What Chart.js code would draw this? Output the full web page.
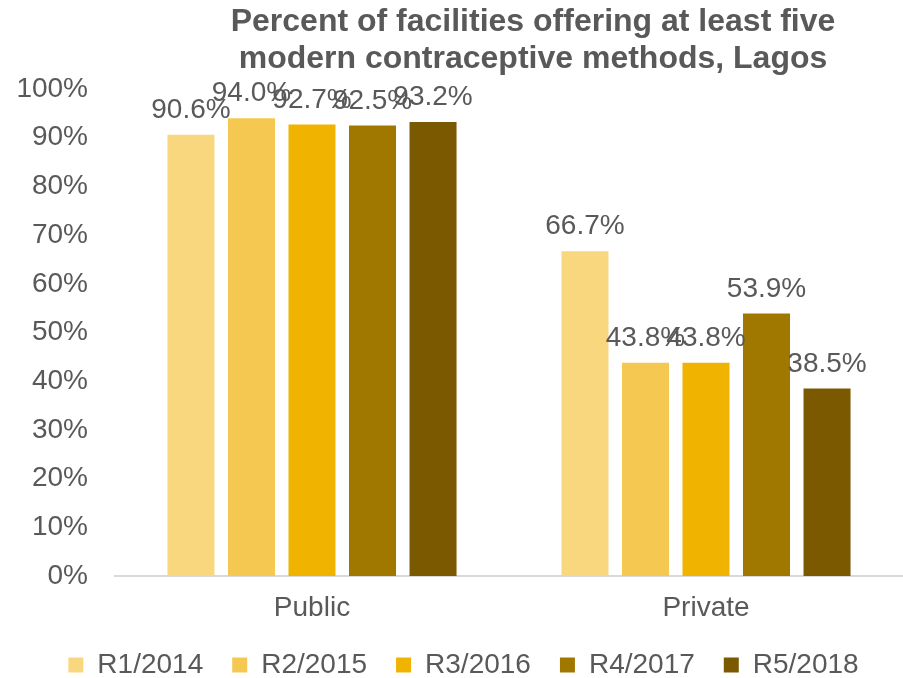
<!DOCTYPE html>
<html>
<head>
<meta charset="utf-8">
<script src="https://cdn.jsdelivr.net/npm/chart.js@4"></script>
<style>
    html, body { margin: 0; padding: 0; background: #fff; }
    #wrap { position: relative; width: 903px; height: 678px; }
    #title {
        position: absolute; left: 133px; top: 2px; width: 800px;
        text-align: center; color: #595959;
        font: bold 32px "Liberation Sans", Arial, sans-serif; line-height: 37px;
    }
</style>
</head>
<body>
<div id="wrap">
    <canvas id="myChart" width="903" height="678"></canvas>
    <div id="title">Percent of facilities offering at least five<br>modern contraceptive methods, Lagos</div>
</div>
<script>
const categories = ['Public', 'Private'];
const rounds = ['R1/2014', 'R2/2015', 'R3/2016', 'R4/2017', 'R5/2018'];
const r1 = [90.6, 66.7];
const r2 = [94.0, 43.8];
const r3 = [92.7, 43.8];
const r4 = [92.5, 53.9];
const r5 = [93.2, 38.5];
const yTicks = [0, 10, 20, 30, 40, 50, 60, 70, 80, 90, 100];

const colors = ['#F9D77E', '#F5C851', '#F0B400', '#A07800', '#7A5900'];
const textColor = '#595959';
const font = '"Liberation Sans", Arial, sans-serif';

// value labels over each bar
const barLabels = {
    id: 'barLabels',
    afterDatasetsDraw(chart) {
        const ctx = chart.ctx;
        ctx.save();
        ctx.font = '28px ' + font;
        ctx.fillStyle = textColor;
        ctx.textAlign = 'center';
        ctx.textBaseline = 'alphabetic';
        chart.data.datasets.forEach((ds, i) => {
            chart.getDatasetMeta(i).data.forEach((bar, j) => {
                ctx.fillText(ds.data[j].toFixed(1) + '%', bar.x, bar.y - 17);
            });
        });
        ctx.restore();
    }
};

// legend padding is wide for spacing between items; keep its height tight
// and nudge the row a bit to the right
const legendBox = {
    id: 'legendBox',
    beforeInit(chart) {
        const legend = chart.legend;
        if (!legend) return;
        const fit = legend.fit;
        legend.fit = function () {
            fit.call(this);
            this.height = 56;
        };
    },
    afterLayout(chart) {
        if (!chart.legend) return;
        chart.legend.left += 12;
        chart.legend.right += 12;
    }
};

const seriesData = [r1, r2, r3, r4, r5];

new Chart(document.getElementById('myChart'), {
    type: 'bar',
    data: {
        labels: categories,
        datasets: rounds.map((name, i) => ({
            label: name,
            data: seriesData[i],
            backgroundColor: colors[i],
            categoryPercentage: 0.768,
            barPercentage: 0.777
        }))
    },
    options: {
        responsive: false,
        animation: false,
        layout: { padding: { top: 89, right: 0, left: 0, bottom: 0 } },
        plugins: {
            legend: {
                position: 'bottom',
                labels: {
                    color: textColor,
                    font: { family: font, size: 28 },
                    boxWidth: 15,
                    boxHeight: 15,
                    padding: 29
                }
            },
            tooltip: { enabled: false }
        },
        scales: {
            x: {
                afterFit: s => { s.height = 46; },
                grid: { display: false, drawTicks: false },
                border: { color: '#D9D9D9', width: 2 },
                ticks: { color: textColor, font: { family: font, size: 28 }, padding: 15 }
            },
            y: {
                min: 0,
                max: 100,
                afterBuildTicks: s => { s.ticks = yTicks.map(v => ({ value: v })); },
                afterFit: s => { s.width = 115; },
                grid: { display: false, drawTicks: false },
                border: { display: false },
                ticks: {
                    color: textColor,
                    font: { family: font, size: 28 },
                    padding: 27,
                    callback: v => v + '%'
                }
            }
        }
    },
    plugins: [barLabels, legendBox]
});
</script>
</body>
</html>
